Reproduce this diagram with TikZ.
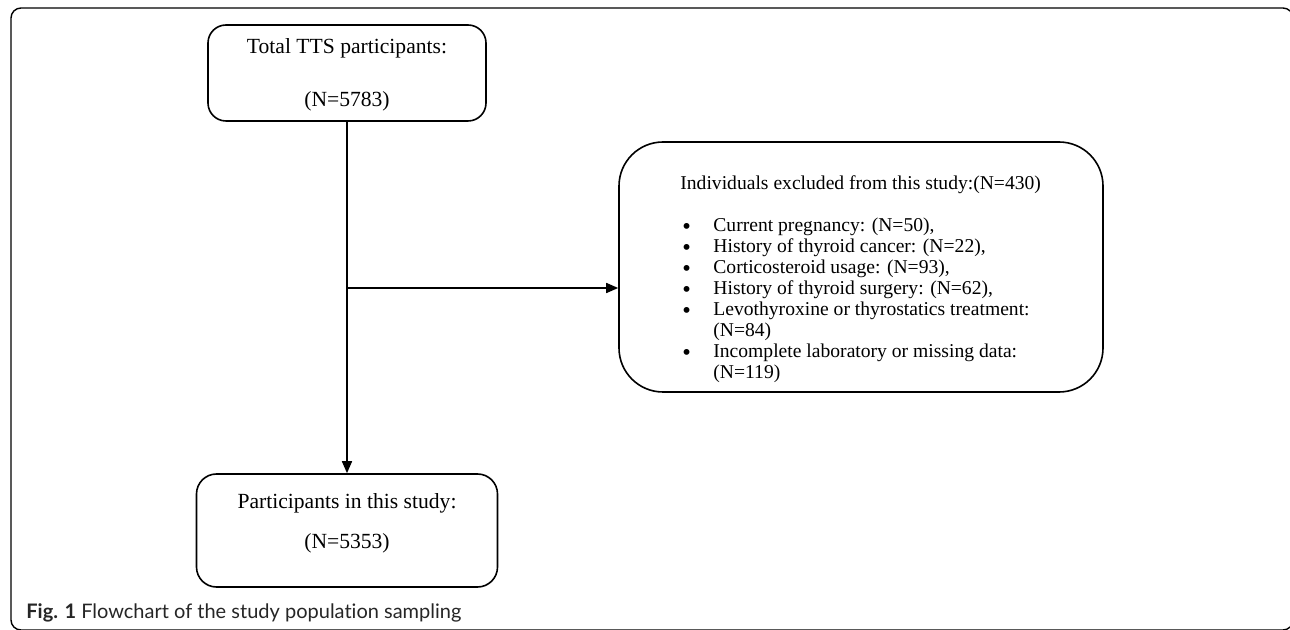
\documentclass[tikz,border=0pt]{standalone}
\usepackage{fontspec}
\setmainfont{Liberation Serif}
\newfontfamily\capfont[Ligatures=NoCommon]{Lato}
\usepackage{tikz}
\usetikzlibrary{arrows.meta}
\tikzstyle{box}=[draw=black,line width=0.8pt,inner sep=0pt]
\tikzstyle{title}=[anchor=base,inner sep=0pt,font=\fontsize{10.8}{13}\selectfont]
\tikzstyle{flow}=[draw=black,line width=0.8pt,-{Triangle[length=6pt,width=5pt]}]
\newcommand{\bitem}[1]{\par\hangindent=16.5pt\hangafter=1\noindent\makebox[16.5pt][l]{\hspace{1pt}\raisebox{-1.3pt}[0pt][0pt]{\scalebox{1.25}{\textbullet}}}#1}

\begin{document}
\begin{tikzpicture}[x=0.5pt,y=-0.5pt]
  \useasboundingbox (0,0) rectangle (1290,630);
  % outer frame, cut off on the right and bottom
  \draw[line width=0.7pt,rounded corners=5pt] (11,8) rectangle (1293,630);

  \node[box,rounded corners=9pt,minimum width=139pt,minimum height=48pt] (total) at (347,73) {};
  \node[title] (totalA) at (347,54) {Total TTS participants:};
  \node[title] (totalB) at (347,107) {(N=5783)};

  \node[box,rounded corners=22pt,minimum width=242pt,minimum height=125pt] (excl) at (861,267) {};
  \node[anchor=base west,inner sep=0pt,font=\fontsize{9.8}{10.5}\selectfont] (excltxt) at (680,190)
    {\parbox[t]{185pt}{\raggedright Individuals excluded from this study:(N=430)\par\vspace{10.5pt}
      \bitem{Current pregnancy: (N=50),}
      \bitem{History of thyroid cancer: (N=22),}
      \bitem{Corticosteroid usage: (N=93),}
      \bitem{History of thyroid surgery: (N=62),}
      \bitem{Levothyroxine or thyrostatics treatment: (N=84)}
      \bitem{Incomplete laboratory or missing data: (N=119)}}};

  \node[box,rounded corners=10pt,minimum width=150.5pt,minimum height=56.5pt] (result) at (347,530.5) {};
  \node[title] (resultA) at (347,509) {Participants in this study:};
  \node[title] (resultB) at (347,548) {(N=5353)};

  \draw[flow] (total.south) -- (result.north);
  \coordinate (split) at (347,288);
  \draw[flow] (split) -- (split -| excl.west);

  \node[anchor=base west,inner sep=0pt,font=\capfont\fontsize{10}{12}\selectfont,text=black!85] (caption) at (26,618)
    {\textbf{Fig. 1} Flowchart of the study population sampling};
\end{tikzpicture}
\end{document}
